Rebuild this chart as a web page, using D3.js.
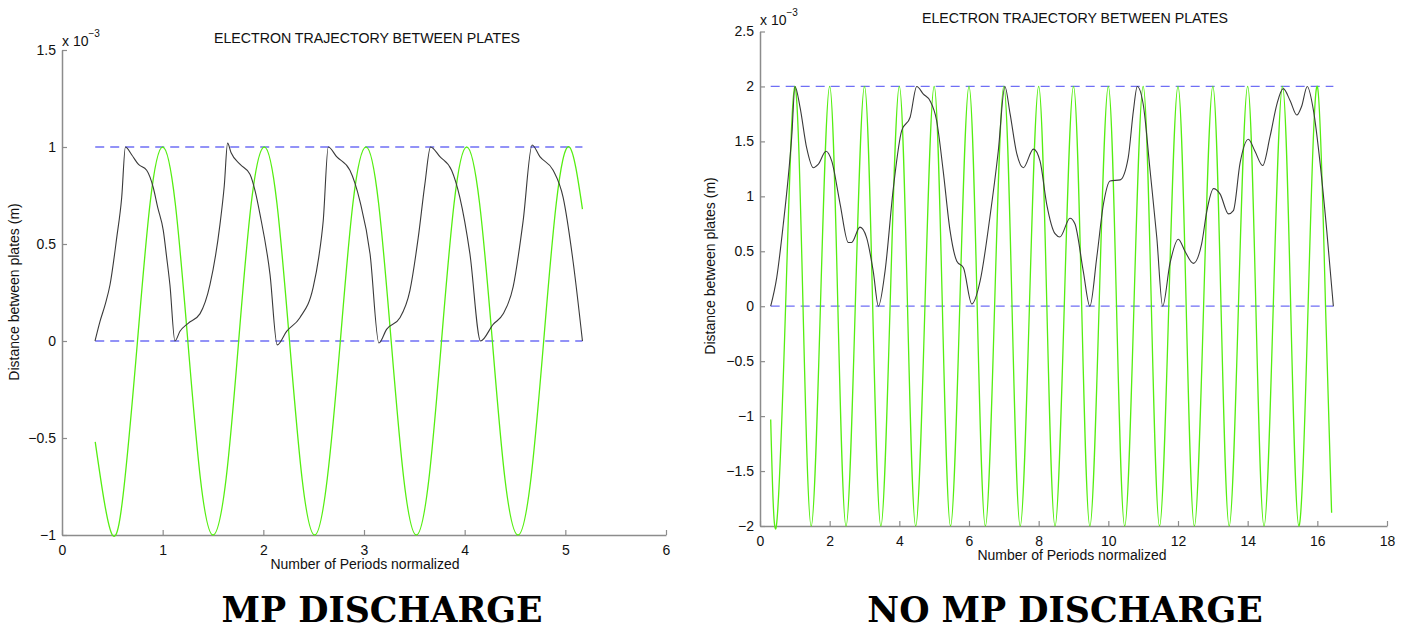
<!DOCTYPE html>
<html><head><meta charset="utf-8">
<script src="https://cdn.jsdelivr.net/npm/d3@7"></script>
<style>body{margin:0;background:#fff}svg{display:block}</style>
</head><body>
<svg id="c" width="1409" height="631"></svg>
<script>
// ---------- DATA (values in units of 1e-3 m) ----------
const leftTitle = "ELECTRON TRAJECTORY BETWEEN PLATES";
const rightTitle = "ELECTRON TRAJECTORY BETWEEN PLATES";
const xLabel = "Number of Periods normalized";
const yLabel = "Distance between plates (m)";
const leftCaption = "MP DISCHARGE";
const rightCaption = "NO MP DISCHARGE";

const leftXTicks = [0, 1, 2, 3, 4, 5, 6];
const leftYTicks = [-1, -0.5, 0, 0.5, 1, 1.5];
const rightXTicks = [0, 2, 4, 6, 8, 10, 12, 14, 16, 18];
const rightYTicks = [-2, -1.5, -1, -0.5, 0, 0.5, 1, 1.5, 2, 2.5];

const leftPlates = [0, 1];
const leftPlateSpan = [0.33, 5.17];
const rightPlates = [0, 2];
const rightPlateSpan = [0.307, 16.46];

const leftFieldX = [0.33,0.50,0.625,0.75,0.875,1.0,1.125,1.25,1.375,1.50,1.63,1.755,1.88,2.01,2.135,2.26,2.385,2.51,2.635,2.765,2.89,3.02,3.145,3.27,3.395,3.52,3.645,3.77,3.895,4.02,4.148,4.275,4.40,4.53,4.658,4.785,4.91,5.04,5.17];
const leftFieldY = [-0.52,-1,-0.71,0,0.71,1,0.71,0,-0.71,-1,-0.71,0,0.71,1,0.71,0,-0.71,-1,-0.71,0,0.71,1,0.71,0,-0.71,-1,-0.71,0,0.71,1,0.71,0,-0.71,-1,-0.71,0,0.71,1,0.68];

const leftTrajX = [0.328,0.377,0.43,0.477,0.543,0.593,0.630,0.692,0.76,0.841,0.907,0.95,1.006,1.04,1.072,1.122,1.172,1.25,1.37,1.47,1.569,1.612,1.645,1.680,1.77,1.867,1.92,1.966,2.066,2.138,2.231,2.363,2.495,2.55,2.595,2.645,2.728,2.86,2.96,3.06,3.148,3.224,3.357,3.456,3.538,3.605,3.661,3.754,3.87,3.952,4.052,4.158,4.283,4.383,4.482,4.581,4.67,4.747,4.879,4.978,5.077,5.17];
const leftTrajY = [0,0.10,0.19,0.29,0.53,0.74,1.0,0.96,0.91,0.88,0.79,0.69,0.57,0.43,0.29,0,0.05,0.09,0.14,0.29,0.60,0.80,1.02,0.97,0.91,0.86,0.77,0.655,0.345,-0.02,0.05,0.12,0.276,0.43,0.62,1.0,0.95,0.88,0.72,0.45,-0.01,0.06,0.12,0.26,0.53,0.81,1.0,0.95,0.88,0.74,0.45,0,0.086,0.14,0.28,0.62,1.01,0.95,0.88,0.74,0.41,0];

const rightFieldX = [0.307,0.47,0.735,1,1.235,1.47,1.735,2,2.235,2.47,2.735,3,3.235,3.47,3.735,4,4.235,4.47,4.735,5,5.235,5.47,5.735,6,6.235,6.47,6.735,7,7.235,7.47,7.735,8,8.235,8.47,8.735,9,9.235,9.47,9.735,10,10.235,10.47,10.735,11,11.235,11.47,11.735,12,12.235,12.47,12.735,13,13.235,13.47,13.735,14,14.235,14.47,14.735,15,15.235,15.47,15.735,16,16.235,16.41];
const rightFieldY = [-1.03,-2,0,2,0,-2,0,2,0,-2,0,2,0,-2,0,2,0,-2,0,2,0,-2,0,2,0,-2,0,2,0,-2,0,2,0,-2,0,2,0,-2,0,2,0,-2,0,2,0,-2,0,2,0,-2,0,2,0,-2,0,2,0,-2,0,2,0,-2,0,2,0,-1.88];

const rightTrajX = [0.307,0.48,0.67,0.81,0.91,1.005,1.15,1.34,1.53,1.67,1.895,2.06,2.30,2.535,2.63,2.87,3.06,3.25,3.40,3.59,3.83,4.07,4.31,4.50,4.69,4.88,5.07,5.26,5.455,5.65,5.84,6.08,6.32,6.60,6.84,7.03,7.18,7.37,7.56,7.85,8.04,8.23,8.47,8.61,8.90,9.04,9.28,9.47,9.67,9.86,10.05,10.34,10.57,10.72,10.83,11.0,11.2,11.39,11.56,11.77,12.01,12.20,12.44,12.68,12.83,13.02,13.21,13.45,13.59,13.78,14.02,14.21,14.43,14.64,14.84,15.02,15.22,15.41,15.55,15.71,15.89,16.08,16.27,16.46];
const rightTrajY = [0,0.26,0.75,1.17,1.54,2.0,1.81,1.44,1.26,1.29,1.41,1.32,0.93,0.58,0.58,0.72,0.625,0.32,0,0.32,1.08,1.60,1.72,2.0,1.93,1.87,1.69,1.23,0.69,0.41,0.35,0.02,0.23,0.81,1.41,2.0,1.75,1.39,1.26,1.43,1.32,0.93,0.66,0.63,0.80,0.75,0.32,0,0.45,0.93,1.14,1.15,1.35,1.78,2.0,1.84,1.23,0.63,0,0.39,0.61,0.50,0.39,0.57,0.87,1.07,1.02,0.84,0.87,1.30,1.52,1.41,1.28,1.54,1.84,1.98,1.87,1.74,1.82,2.0,1.78,1.30,0.69,0];

// ---------- DRAWING ----------
const svg = d3.select("#c");
const FONT = "'Liberation Sans', Arial, Helvetica, sans-serif";
const AXIS = "#8c8c8c";
const GREEN = "#55ee11";
const TRAJ = "#3a3a3a";
const PLATE = "#6f6ff5";

function zip(xs, ys){ return xs.map((x,i)=>[x, ys[i]]); }

function panel(cfg){
  const g = svg.append("g");
  const x = d3.scaleLinear().domain(cfg.xDomain).range(cfg.xRange);
  const y = d3.scaleLinear().domain(cfg.yDomain).range(cfg.yRange);

  const ax = g.append("g").attr("transform", `translate(0,${cfg.yRange[0]})`)
    .call(d3.axisBottom(x).tickValues(cfg.xTicks).tickSizeInner(-5).tickSizeOuter(0).tickPadding(10).tickFormat(d3.format("d")));
  const ay = g.append("g").attr("transform", `translate(${cfg.xRange[0]},0)`)
    .call(d3.axisLeft(y).tickValues(cfg.yTicks).tickSizeInner(-5).tickSizeOuter(0).tickPadding(6)
      .tickFormat(d => (d < 0 ? "\u2212" : "") + d3.format("")(Math.abs(d))));
  [ax, ay].forEach(a => {
    a.select(".domain").attr("stroke", AXIS).attr("stroke-width", 1.5);
    a.selectAll(".tick line").attr("stroke", AXIS).attr("stroke-width", 1.2);
    a.selectAll(".tick text").attr("fill", "#111").style("font-family", FONT).style("font-size", "14px");
  });

  g.selectAll(".plate").data(cfg.plates).enter().append("line")
    .attr("x1", x(cfg.plateSpan[0])).attr("x2", x(cfg.plateSpan[1]))
    .attr("y1", d => y(d)).attr("y2", d => y(d))
    .attr("stroke", PLATE).attr("stroke-width", 1.3).attr("stroke-dasharray", "9,6");

  g.append("path").datum(zip(cfg.fieldX, cfg.fieldY))
    .attr("fill", "none").attr("stroke", GREEN).attr("stroke-width", 1.3)
    .attr("d", d3.line().x(d=>x(d[0])).y(d=>y(d[1])).curve(d3.curveNatural));

  g.append("path").datum(zip(cfg.trajX, cfg.trajY))
    .attr("fill", "none").attr("stroke", TRAJ).attr("stroke-width", 1.1)
    .attr("d", d3.line().x(d=>x(d[0])).y(d=>y(d[1])).curve(d3.curveMonotoneX));

  const ex = g.append("text").attr("x", cfg.xRange[0]).attr("y", cfg.expY)
    .style("font-family", FONT).style("font-size", "14px").attr("fill", "#111");
  ex.append("tspan").text("x 10");
  ex.append("tspan").attr("dy", -9).style("font-size", "10px").text("\u22123");

  g.append("text").attr("x", cfg.titleX).attr("y", cfg.titleY).attr("text-anchor", "middle")
    .style("font-family", FONT).style("font-size", "14.2px").attr("fill", "#111").text(cfg.title);
  g.append("text").attr("x", cfg.xLabX).attr("y", cfg.xLabY).attr("text-anchor", "middle")
    .style("font-family", FONT).style("font-size", "14px").attr("fill", "#111").text(xLabel);
  g.append("text").attr("transform", `translate(${cfg.yLabX},${cfg.yLabY}) rotate(-90)`).attr("text-anchor", "middle")
    .style("font-family", FONT).style("font-size", "14px").attr("fill", "#111").text(yLabel);
  g.append("text").attr("x", cfg.capX).attr("y", 622).attr("text-anchor", "middle")
    .style("font-family", "'DejaVu Serif', 'Liberation Serif', serif").style("font-weight", "bold")
    .style("font-size", "34.8px").attr("fill", "#000").text(cfg.caption);
}

panel({
  xDomain:[0,6], xRange:[62,666], yDomain:[-1,1.5], yRange:[535,50],
  xTicks:leftXTicks, yTicks:leftYTicks, plates:leftPlates, plateSpan:leftPlateSpan,
  fieldX:leftFieldX, fieldY:leftFieldY, trajX:leftTrajX, trajY:leftTrajY,
  expY:46, title:leftTitle, titleX:367, titleY:43, xLabX:365, xLabY:569, yLabX:19, yLabY:292,
  caption:leftCaption, capX:382
});
panel({
  xDomain:[0,18], xRange:[760,1387], yDomain:[-2,2.5], yRange:[526,31.5],
  xTicks:rightXTicks, yTicks:rightYTicks, plates:rightPlates, plateSpan:rightPlateSpan,
  fieldX:rightFieldX, fieldY:rightFieldY, trajX:rightTrajX, trajY:rightTrajY,
  expY:25, title:rightTitle, titleX:1075, titleY:23, xLabX:1072, xLabY:560, yLabX:715, yLabY:266,
  caption:rightCaption, capX:1065
});
</script>
</body></html>
